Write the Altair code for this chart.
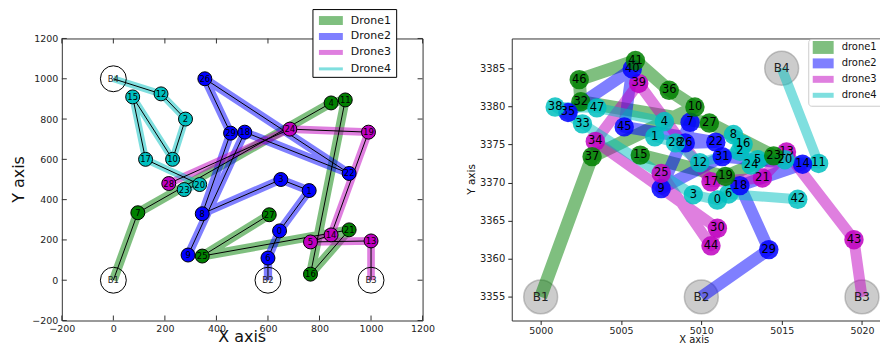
import altair as alt
import pandas as pd

FONT = "DejaVu Sans"

# ---------------- left panel data ----------------
L_ids = list(range(30))
L_x = [645, 760, 280, 650, 845, 765, 600, 95, 345, 290, 230, 900, 185, 1000, 845,
       75, 765, 125, 510, 990, 335, 915, 915, 275, 685, 345, 355, 605, 215, 455]
L_y = [245, 445, 800, 500, 880, 190, 110, 335, 330, 125, 600, 895, 925, 195, 225,
       910, 30, 600, 735, 735, 475, 250, 530, 450, 750, 120, 1000, 325, 480, 730]
L_base_names = ["B1", "B2", "B3", "B4"]
L_base_x = [0, 600, 1000, 0]
L_base_y = [0, 0, 0, 1000]
L_drones = ["Drone1", "Drone2", "Drone3", "Drone4"]
L_routes = [
    ["B1", 7, 4, 11, 16, 21, 25, 27],
    ["B2", 6, 0, 1, 3, 8, 29, 26, 22, 18, 9],
    ["B3", 13, 5, 14, 19, 24, 28],
    ["B4", 12, 2, 10, 15, 17, 20, 23],
]
L_ticks = [-200, 0, 200, 400, 600, 800, 1000, 1200]

# ---------------- right panel data ----------------
R_ids = list(range(48))
R_x = [5011.0, 5007.1, 5012.4, 5009.5, 5007.7, 5013.5, 5011.7, 5009.3, 5012.0, 5007.5,
       5009.6, 5017.3, 5009.9, 5015.3, 5016.3, 5006.2, 5012.6, 5010.6, 5012.4, 5011.5,
       5015.2, 5013.8, 5010.9, 5014.5, 5013.1, 5007.5, 5009.0, 5010.5, 5008.4, 5014.2,
       5011.0, 5011.3, 5002.5, 5002.6, 5003.4, 5001.7, 5008.0, 5003.2, 5000.9, 5006.1,
       5005.7, 5005.9, 5016.0, 5019.5, 5010.6, 5005.2, 5002.4, 5003.5]
R_y = [3367.7, 3376.0, 3374.1, 3368.4, 3378.0, 3373.0, 3368.5, 3377.9, 3376.3, 3369.2,
       3379.9, 3372.5, 3372.6, 3374.0, 3372.4, 3373.6, 3375.0, 3370.1, 3369.6, 3370.8,
       3373.0, 3370.6, 3375.3, 3373.5, 3372.3, 3371.2, 3375.2, 3377.8, 3375.2, 3361.2,
       3364.0, 3373.4, 3380.6, 3377.7, 3375.4, 3379.2, 3382.1, 3373.4, 3379.9, 3383.0,
       3384.9, 3386.0, 3367.8, 3362.5, 3361.7, 3377.3, 3383.5, 3379.8]
R_base_names = ["B1", "B2", "B3", "B4"]
R_base_x = [5000, 5010, 5020, 5015]
R_base_y = [3355, 3355, 3355, 3385]
R_drones = ["drone1", "drone2", "drone3", "drone4"]
R_routes = [
    ["B1", 37, 10, 36, 41, 46, 32, 27, 23, 19, 15],
    ["B2", 29, 18, 14, 31, 9, 7, 26, 22, 45, 40, 35],
    ["B3", 43, 13, 21, 17, 39, 34, 30, 44, 25],
    ["B4", 11, 20, 5, 24, 16, 8, 2, 12, 28, 1, 4, 47, 38, 33, 3, 0, 6, 42],
]
R_xticks = [5000, 5005, 5010, 5015, 5020]
R_yticks = [3355, 3360, 3365, 3370, 3375, 3380, 3385]

COLORS = ["#008000", "#0000ff", "#bf00bf", "#00bfbf"]


def build(ids, xs, ys, bnames, bx, by, drones, routes):
    pos = {i: (x, y) for i, x, y in zip(ids, xs, ys)}
    pos.update({b: (x, y) for b, x, y in zip(bnames, bx, by)})
    owner = {}
    rows = []
    for d, r in zip(drones, routes):
        for k, n in enumerate(r):
            rows.append({"drone": d, "order": k, "x": pos[n][0], "y": pos[n][1]})
            if not isinstance(n, str):
                owner[n] = d
    rdf = pd.DataFrame(rows)
    ndf = pd.DataFrame({"x": xs, "y": ys, "drone": [owner[i] for i in ids],
                        "label": [str(i) for i in ids]})
    bdf = pd.DataFrame({"x": bx, "y": by, "label": bnames})
    return rdf, ndf, bdf


ONE = pd.DataFrame({"a": [0]})


def spacers(x0, x1, y0, y1):
    # invisible white marks that pin the panel's bounding box (layout only)
    return [
        alt.Chart(ONE).mark_rule(color="white", strokeWidth=1).encode(
            x=alt.value(x0), x2=alt.value(x0 + 1), y=alt.value(y0)),
        alt.Chart(ONE).mark_rule(color="white", strokeWidth=1).encode(
            x=alt.value(x1 - 1), x2=alt.value(x1), y=alt.value(y1)),
    ]


# ================= LEFT =================
LW, LH = 362, 283
l_routes, l_nodes, l_bases = build(L_ids, L_x, L_y, L_base_names, L_base_x, L_base_y,
                                   L_drones, L_routes)
lxs = alt.Scale(domain=[-200, 1200], nice=False, zero=False)
lys = alt.Scale(domain=[-200, 1200], nice=False, zero=False)
lcs = alt.Scale(domain=L_drones, range=COLORS)
lws = alt.Scale(domain=L_drones, range=[9, 7, 5, 3])
lxax = alt.Axis(values=L_ticks, format="d", ticks=False, domain=False, grid=False,
                labelFont=FONT, labelFontSize=9.5, labelColor="#222", labelPadding=3,
                labelFlush=False, labelOverlap=False, title=None)
lyax = alt.Axis(values=L_ticks, format="d", ticks=False, domain=False, grid=False,
                labelFont=FONT, labelFontSize=9.5, labelColor="#222", labelPadding=4,
                labelFlush=False, labelOverlap=False, title=None)
LX = alt.X("x:Q", scale=lxs, axis=lxax)
LY = alt.Y("y:Q", scale=lys, axis=lyax)

l_thick = alt.Chart(l_routes).mark_line(opacity=0.5, strokeJoin="round").encode(
    x=LX, y=LY,
    color=alt.Color("drone:N", scale=lcs, legend=None),
    strokeWidth=alt.StrokeWidth("drone:N", scale=lws, legend=None),
    order="order:Q", detail="drone:N")
l_thin = alt.Chart(l_routes).mark_line(color="black", strokeWidth=1).encode(
    x=LX, y=LY, order="order:Q", detail="drone:N")
l_base = alt.Chart(l_bases).mark_point(shape="circle", size=676, filled=False,
                                       color="black", strokeWidth=1, opacity=1).encode(x=LX, y=LY)
l_base_t = alt.Chart(l_bases).mark_text(font=FONT, fontSize=8.5, color="#222").encode(
    x=LX, y=LY, text="label:N")
l_node = alt.Chart(l_nodes).mark_circle(size=196, stroke="black", strokeWidth=1, opacity=1).encode(
    x=LX, y=LY, fill=alt.Fill("drone:N", scale=lcs, legend=None))
l_node_t = alt.Chart(l_nodes).mark_text(font=FONT, fontSize=8.5, color="black").encode(
    x=LX, y=LY, text="label:N")
ltx = pd.DataFrame({"x": L_ticks})
lty = pd.DataFrame({"y": L_ticks})
l_tk = [
    alt.Chart(ltx).mark_rule(color="#333").encode(x=LX, y=alt.value(LH), y2=alt.value(LH - 5)),
    alt.Chart(ltx).mark_rule(color="#333").encode(x=LX, y=alt.value(0), y2=alt.value(5)),
    alt.Chart(lty).mark_rule(color="#333").encode(y=LY, x=alt.value(0), x2=alt.value(5)),
    alt.Chart(lty).mark_rule(color="#333").encode(y=LY, x=alt.value(LW), x2=alt.value(LW - 5)),
]
l_titles = [
    alt.Chart(pd.DataFrame({"t": ["X axis"]})).mark_text(
        font=FONT, fontSize=16, color="#111", align="center", baseline="alphabetic").encode(
        x=alt.value(LW / 2), y=alt.value(305), text="t:N"),
    alt.Chart(pd.DataFrame({"t": ["Y axis"]})).mark_text(
        font=FONT, fontSize=16, color="#111", align="center", baseline="middle", angle=270).encode(
        x=alt.value(-43), y=alt.value(LH / 2), text="t:N"),
]
# legend (layout only)
l_leg = [alt.Chart(ONE).mark_rect(fill="white", stroke="black", strokeWidth=1).encode(
    x=alt.value(252), x2=alt.value(336), y=alt.value(-29), y2=alt.value(39))]
l_rows = [-18, -2, 14, 30.5]
l_wid = [9, 7, 5, 3]
for d, c, ry, w in zip(L_drones, COLORS, l_rows, l_wid):
    src = pd.DataFrame({"t": [d]})
    l_leg.append(alt.Chart(src).mark_rule(color=c, opacity=0.5, strokeWidth=w).encode(
        x=alt.value(258), x2=alt.value(282), y=alt.value(ry)))
    l_leg.append(alt.Chart(src).mark_text(font=FONT, fontSize=11, align="left", baseline="middle",
                                          color="#111").encode(
        x=alt.value(290), y=alt.value(ry), text="t:N"))

left = alt.layer(l_thick, l_thin, l_base, l_base_t, l_node, l_node_t, *l_tk, *l_titles, *l_leg,
                 *spacers(-53, 380, -29, 330)).properties(width=LW, height=LH)

# ================= RIGHT =================
RW, RH = 374, 283
r_routes, r_nodes, r_bases = build(R_ids, R_x, R_y, R_base_names, R_base_x, R_base_y,
                                   R_drones, R_routes)
rxs = alt.Scale(domain=[4998.2, 5021.4], nice=False, zero=False)
rys = alt.Scale(domain=[3351.9, 3388.9], nice=False, zero=False)
rcs = alt.Scale(domain=R_drones, range=COLORS)
rws = alt.Scale(domain=R_drones, range=[13, 10, 8, 5])
rxax = alt.Axis(values=R_xticks, format="d", tickSize=4, tickColor="#222", domain=False, grid=False,
                labelFont=FONT, labelFontSize=9.5, labelColor="#222", labelPadding=1.5,
                labelFlush=False, labelOverlap=False, title=None)
ryax = alt.Axis(values=R_yticks, format="d", tickSize=4, tickColor="#222", domain=False, grid=False,
                labelFont=FONT, labelFontSize=10, labelColor="#222", labelPadding=3,
                labelFlush=False, labelOverlap=False, title=None)
RX = alt.X("x:Q", scale=rxs, axis=rxax)
RY = alt.Y("y:Q", scale=rys, axis=ryax)

r_base = alt.Chart(r_bases).mark_point(shape="circle", size=1156, filled=True, fill="#808080",
                                       fillOpacity=0.4, stroke="#808080", strokeOpacity=0.45,
                                       strokeWidth=1.5).encode(x=RX, y=RY)
r_base_t = alt.Chart(r_bases).mark_text(font=FONT, fontSize=12, color="#222").encode(
    x=RX, y=RY, text="label:N")
r_thick = alt.Chart(r_routes).mark_line(opacity=0.5, strokeJoin="round").encode(
    x=RX, y=RY,
    color=alt.Color("drone:N", scale=rcs, legend=None),
    strokeWidth=alt.StrokeWidth("drone:N", scale=rws, legend=None),
    order="order:Q", detail="drone:N")
r_node = alt.Chart(r_nodes).mark_circle(size=380, opacity=0.85).encode(
    x=RX, y=RY, fill=alt.Fill("drone:N", scale=rcs, legend=None))
r_node_t = alt.Chart(r_nodes).mark_text(font=FONT, fontSize=11.5, color="black").encode(
    x=RX, y=RY, text="label:N")
r_titles = [
    alt.Chart(pd.DataFrame({"t": ["X axis"]})).mark_text(
        font=FONT, fontSize=10, color="#111", align="center", baseline="alphabetic").encode(
        x=alt.value(RW / 2 - 4), y=alt.value(305.5), text="t:N"),
    alt.Chart(pd.DataFrame({"t": ["Y axis"]})).mark_text(
        font=FONT, fontSize=10.5, color="#111", align="center", baseline="middle", angle=270).encode(
        x=alt.value(-40), y=alt.value(RH / 2), text="t:N"),
]
r_leg = [alt.Chart(ONE).mark_rect(fill="white", fillOpacity=0.8, stroke="#cccccc",
                                  strokeWidth=1, cornerRadius=3).encode(
    x=alt.value(298), x2=alt.value(385), y=alt.value(1), y2=alt.value(68))]
r_rows = [9, 25, 41, 57]
r_wid = [13, 10, 7, 5]
for d, c, ry, w in zip(R_drones, COLORS, r_rows, r_wid):
    src = pd.DataFrame({"t": [d]})
    r_leg.append(alt.Chart(src).mark_rule(color=c, opacity=0.5, strokeWidth=w).encode(
        x=alt.value(302), x2=alt.value(323), y=alt.value(ry)))
    r_leg.append(alt.Chart(src).mark_text(font=FONT, fontSize=10, align="left", baseline="middle",
                                          color="#111").encode(
        x=alt.value(331), y=alt.value(ry), text="t:N"))

right = alt.layer(r_base, r_thick, r_base_t, r_node, r_node_t, *r_titles, *r_leg,
                  *spacers(-50, 390, -29, 330)).properties(width=RW, height=RH)

chart = alt.hconcat(left, right, spacing=19.5).resolve_scale(
    x="independent", y="independent", color="independent", fill="independent",
    strokeWidth="independent").properties(
    padding={"left": 0, "top": 0, "right": -22, "bottom": -22}
).configure_view(stroke="#333", strokeWidth=1)

chart.save("out.html", embed_options={"renderer": "svg", "actions": False})
